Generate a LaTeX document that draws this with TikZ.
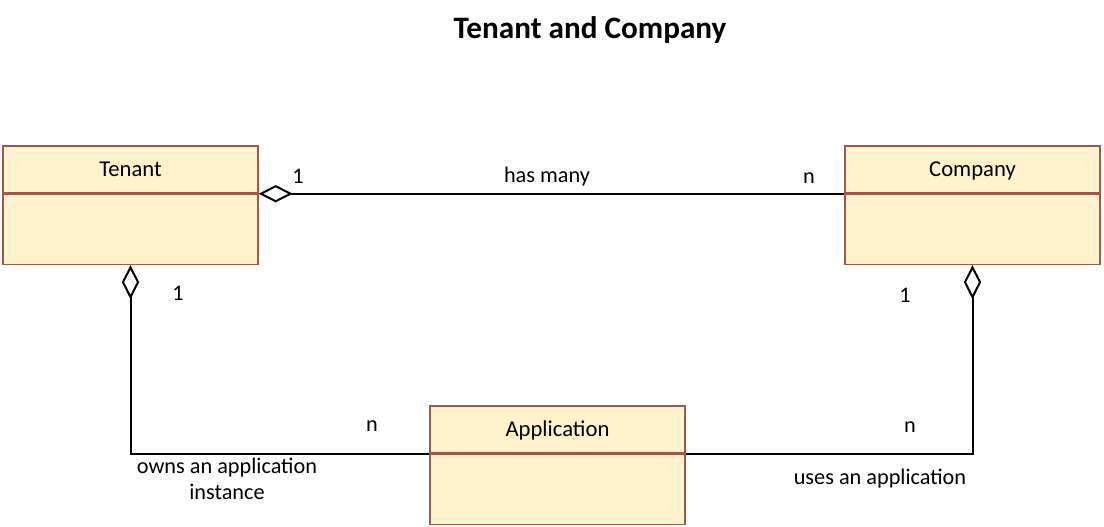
\documentclass[tikz,border=0pt]{standalone}
\usepackage{fontspec}
\setmainfont{Carlito}
\usetikzlibrary{arrows.meta,positioning}
\definecolor{boxline}{HTML}{A0584A}
\definecolor{boxfill}{HTML}{FFF2CC}
\tikzset{
  head/.style={draw=boxline,fill=boxfill,line width=1.1pt,minimum width=191.25pt,minimum height=35.25pt,inner sep=0pt,text height=12.5pt,text depth=1.7pt,font=\fontsize{17}{20}\selectfont},
  body/.style={draw=boxline,fill=boxfill,line width=1.1pt,minimum width=191.25pt,minimum height=52.5pt,inner sep=0pt},
  link/.style={line width=1.5pt,black},
  agg/.style={{Diamond[fill=white,length=25.5pt,width=13pt]}-},
  lbl/.style={font=\fontsize{16.7}{19}\selectfont,inner sep=1pt,align=center}
}
\begin{document}
\begin{tikzpicture}[x=0.75pt,y=-0.75pt]
\useasboundingbox (0,0) rectangle (1104,527);
\node[font=\bfseries\fontsize{23.4}{28}\selectfont] (title) at (590,30) {Tenant and Company};
% classes
\node[head] (tenant) at (130.5,169.5) {Tenant};
\node[body,below=0pt of tenant] (tenantb) {};
\node[head] (company) at (972.5,169.5) {Company};
\node[body,below=0pt of company] (companyb) {};
\node[head] (app) at (557.5,429.5) {Application};
\node[body,below=0pt of app] (appb) {};
% associations
\draw[link,agg] (tenant.south east) -- (company.south west);
\draw[link,agg] (tenantb.south) |- (app.south west);
\draw[link,agg] (companyb.south) |- (app.south east);
% multiplicities and roles
\node[lbl] (m1) at (298,176) {1};
\node[lbl] (hasmany) at (547,177) {has many};
\node[lbl] (m2) at (809,178) {n};
\node[lbl] (m3) at (178,293) {1};
\node[lbl] (m4) at (372,426) {n};
\node[lbl] (owns) at (227,479) {owns an application\\instance};
\node[lbl] (m5) at (905,295) {1};
\node[lbl] (m6) at (910,427) {n};
\node[lbl] (uses) at (880,479) {uses an application};
\end{tikzpicture}
\end{document}
